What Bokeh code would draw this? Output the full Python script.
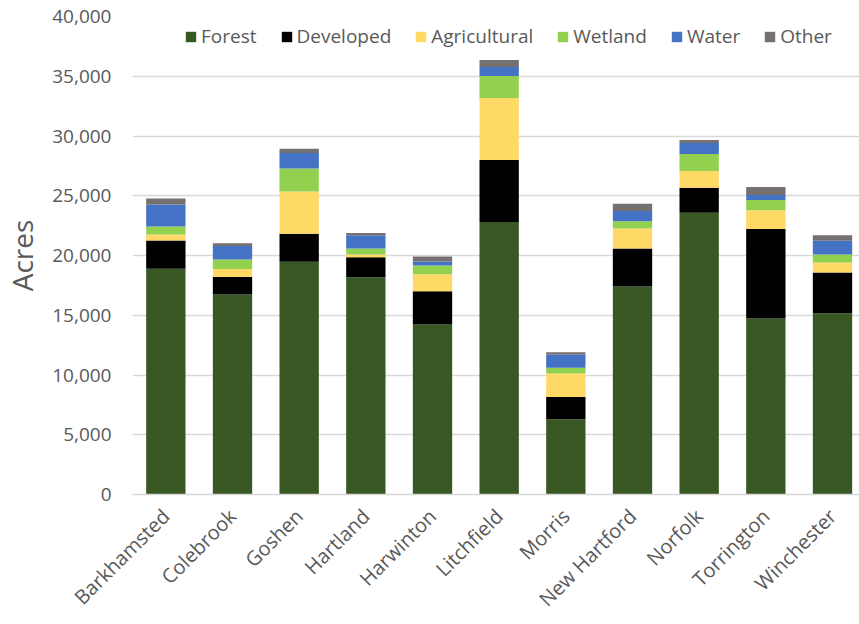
import math
from bokeh.plotting import figure
from bokeh.models import ColumnDataSource, FixedTicker, NumeralTickFormatter, Range1d, Legend
from bokeh.embed import file_html
from bokeh.resources import INLINE

towns = ["Barkhamsted", "Colebrook", "Goshen", "Hartland", "Harwinton", "Litchfield",
         "Morris", "New Hartford", "Norfolk", "Torrington", "Winchester"]
forest = [18900, 16730, 19470, 18180, 14230, 22810, 6290, 17400, 23580, 14730, 15170]
developed = [2350, 1480, 2360, 1670, 2780, 5180, 1860, 3180, 2090, 7490, 3400]
agricultural = [500, 670, 3530, 230, 1420, 5200, 1980, 1670, 1400, 1560, 840]
wetland = [670, 780, 1930, 500, 730, 1840, 480, 610, 1420, 870, 670]
water = [1840, 1140, 1280, 1110, 330, 750, 1080, 860, 920, 410, 1160]
other = [500, 220, 360, 200, 420, 590, 220, 620, 250, 670, 450]

series = ["Forest", "Developed", "Agricultural", "Wetland", "Water", "Other"]
colors = ["#385723", "#000000", "#FFD966", "#92D050", "#4472C4", "#767171"]
yticks = [0, 5000, 10000, 15000, 20000, 25000, 30000, 35000, 40000]

src = ColumnDataSource(dict(
    x=list(range(len(towns))),
    Forest=forest, Developed=developed, Agricultural=agricultural,
    Wetland=wetland, Water=water, Other=other,
))

FONT = "Open Sans"
GREY = "#595959"

p = figure(width=859, height=624, output_backend="svg", toolbar_location=None,
           x_range=Range1d(-0.5, 10.405), y_range=Range1d(0, 40000),
           min_border_left=131, min_border_right=0, min_border_top=16, min_border_bottom=129)

renderers = p.vbar_stack(series, x="x", width=0.59, source=src, color=colors, line_color=None)

legend = Legend(items=[(s, [r]) for s, r in zip(series, renderers)],
                orientation="horizontal", location=(52, 445))
legend.label_text_font = FONT
legend.label_text_font_size = "19px"
legend.label_text_color = GREY
legend.glyph_width = 13
legend.glyph_height = 13
legend.label_standoff = 4
legend.spacing = 23
legend.padding = 0
legend.margin = 0
legend.border_line_color = None
legend.background_fill_alpha = 0
p.add_layout(legend)

p.xaxis.ticker = FixedTicker(ticks=list(range(len(towns))))
p.xaxis.major_label_overrides = {i: t for i, t in enumerate(towns)}
p.xaxis.major_label_orientation = math.pi / 4
p.xaxis.major_label_text_font = FONT
p.xaxis.major_label_text_font_size = "20px"
p.xaxis.major_label_text_color = GREY
p.xaxis.major_tick_line_color = None
p.xaxis.major_tick_out = 0
p.xaxis.minor_tick_line_color = None
p.xaxis.axis_line_color = "#d9d9d9"
p.xaxis.axis_line_width = 1.5
p.xaxis.major_label_standoff = 18

p.yaxis.ticker = FixedTicker(ticks=yticks)
p.yaxis.formatter = NumeralTickFormatter(format="0,0")
p.yaxis.major_label_text_font = FONT
p.yaxis.major_label_text_font_size = "19px"
p.yaxis.major_label_text_color = GREY
p.yaxis.major_tick_line_color = None
p.yaxis.major_tick_out = 0
p.yaxis.minor_tick_line_color = None
p.yaxis.axis_line_color = None
p.yaxis.major_label_standoff = 21
p.yaxis.axis_label = "Acres"
p.yaxis.axis_label_text_font = FONT
p.yaxis.axis_label_text_font_size = "28px"
p.yaxis.axis_label_text_font_style = "normal"
p.yaxis.axis_label_text_color = GREY
p.yaxis.axis_label_standoff = 8

p.xgrid.grid_line_color = None
p.ygrid.grid_line_color = "#d9d9d9"
p.ygrid.grid_line_width = 1.5
p.outline_line_color = None

open("out.html", "w").write(file_html(p, INLINE))
